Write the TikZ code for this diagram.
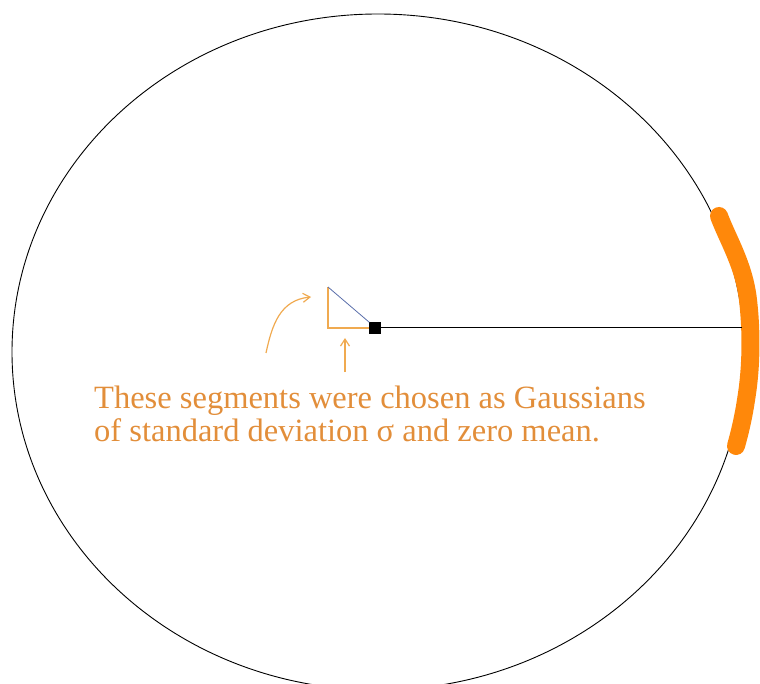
\documentclass[tikz,border=0pt]{standalone}
\usepackage{fontspec}
\setmainfont{Liberation Serif}
\usetikzlibrary{arrows.meta}
\definecolor{txtorange}{RGB}{226,142,58}
\definecolor{penorange}{RGB}{240,170,80}
\definecolor{blob}{RGB}{255,136,10}
\definecolor{hypblue}{RGB}{90,110,170}
\tikzset{
  handarrow/.style={penorange, line width=1.2pt, -{Straight Barb[length=7pt,width=9pt]}},
  legline/.style={penorange, line width=1.2pt},
}
\begin{document}
\begin{tikzpicture}[x=1pt,y=-1pt]
\useasboundingbox (0,0) rectangle (760,684);
\begin{scope}
\clip (0,0) rectangle (760,684);
\draw[black, line width=0.9pt] (378,352) ellipse [x radius=366, y radius=338];
% orange blob on right edge
\draw[blob, line width=18pt, line cap=round, line join=round]
  (719,216) .. controls (728,240) and (744,265) .. (748,300)
  .. controls (752,335) and (751,370) .. (746,400)
  .. controls (743,420) and (739,435) .. (736,446);
\end{scope}
% radius line
\node[draw=black, fill=black, minimum size=11pt, inner sep=0pt] (sq) at (375,328) {};
\coordinate (rim) at (742,328);
\draw[black, line width=1pt] (sq.east) -- (rim);
% triangle
\coordinate (tA) at (328,287);
\coordinate (tB) at (328,328);
\draw[legline] (tA) -- (tB) -- (sq.west);
\draw[hypblue, line width=0.8pt] (tA) -- (sq.north west);
% hand-drawn arrows
\coordinate (c1) at (266,353);
\coordinate (c2) at (311,297);
\draw[handarrow] (c1) .. controls (272,325) and (280,300) .. (c2);
\coordinate (v1) at (345,372);
\coordinate (v2) at (345,338);
\draw[handarrow] (v1) -- (v2);
% text
\node[txtorange, font=\fontsize{32.5}{32.5}\selectfont, align=left, anchor=north west, inner sep=0pt] (txt) at (94,386)
  {These segments were chosen as Gaussians\\of standard deviation σ and zero mean.};
\end{tikzpicture}
\end{document}
